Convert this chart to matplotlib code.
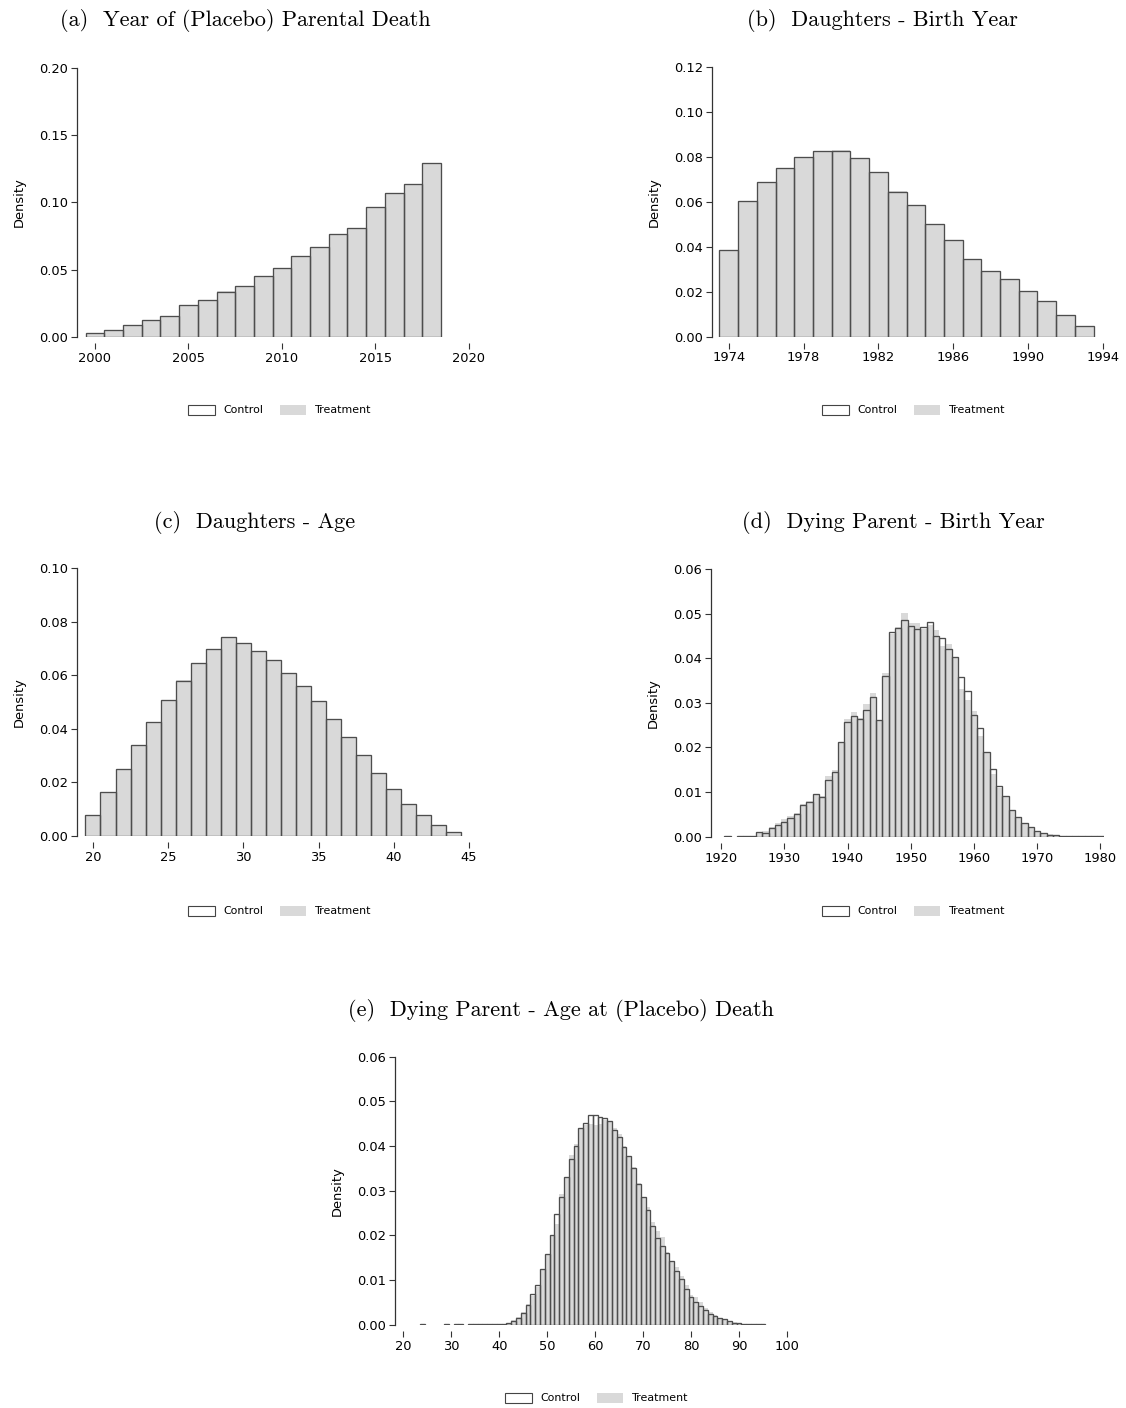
import numpy as np
import matplotlib
matplotlib.use("Agg")
import matplotlib.pyplot as plt
from matplotlib.patches import Patch

# (a) year of (placebo) parental death
years_a = list(range(2000, 2019))
ctrl_a = [0.0025, 0.0047, 0.0085, 0.0127, 0.0157, 0.0234, 0.0271, 0.0336, 0.0381, 0.0450,
          0.0515, 0.0597, 0.0669, 0.0761, 0.0811, 0.0963, 0.1067, 0.1137, 0.1294]
treat_a = [0.0025, 0.0047, 0.0085, 0.0127, 0.0157, 0.0236, 0.0274, 0.0338, 0.0381, 0.0450,
           0.0515, 0.0597, 0.0669, 0.0761, 0.0811, 0.0963, 0.1067, 0.1137, 0.1294]

# (b) daughters - birth year
years_b = list(range(1974, 1994))
ctrl_b = [0.0384, 0.0604, 0.0688, 0.0749, 0.0800, 0.0824, 0.0828, 0.0794, 0.0733, 0.0645,
          0.0585, 0.0500, 0.0428, 0.0345, 0.0293, 0.0254, 0.0203, 0.0158, 0.0094, 0.0045]
treat_b = [0.0384, 0.0604, 0.0688, 0.0749, 0.0800, 0.0826, 0.0830, 0.0794, 0.0733, 0.0647,
           0.0585, 0.0500, 0.0428, 0.0345, 0.0293, 0.0254, 0.0203, 0.0158, 0.0094, 0.0045]

# (c) daughters - age
ages_c = list(range(20, 45))
ctrl_c = [0.0078, 0.0164, 0.0251, 0.0339, 0.0425, 0.0506, 0.0579, 0.0645, 0.0698, 0.0743,
          0.0719, 0.0689, 0.0655, 0.0607, 0.0559, 0.0502, 0.0438, 0.0371, 0.0303, 0.0236,
          0.0174, 0.0120, 0.0077, 0.0041, 0.0014]
treat_c = [0.0078, 0.0164, 0.0251, 0.0339, 0.0425, 0.0506, 0.0582, 0.0645, 0.0698, 0.0743,
           0.0719, 0.0689, 0.0655, 0.0607, 0.0559, 0.0502, 0.0438, 0.0371, 0.0303, 0.0236,
           0.0174, 0.0120, 0.0077, 0.0041, 0.0014]

# (d) dying parent - birth year
years_d = [1921] + list(range(1923, 1981))
ctrl_d = [0.0001, 0.0002, 0.0001, 0.0002, 0.0010, 0.0008, 0.0020, 0.0026, 0.0034, 0.0042,
          0.0051, 0.0071, 0.0078, 0.0095, 0.0089, 0.0126, 0.0146, 0.0213, 0.0257, 0.0270,
          0.0263, 0.0285, 0.0312, 0.0261, 0.0361, 0.0459, 0.0467, 0.0486, 0.0473, 0.0465,
          0.0471, 0.0481, 0.0449, 0.0445, 0.0421, 0.0402, 0.0357, 0.0326, 0.0273, 0.0244,
          0.0190, 0.0151, 0.0113, 0.0091, 0.0060, 0.0045, 0.0030, 0.0021, 0.0012, 0.0008,
          0.0004, 0.0003, 0.0002, 0.0001, 0.0001, 0.0001, 0.0001, 0.0001, 0.0001]
treat_d = [0.0001, 0.0002, 0.0001, 0.0002, 0.0011, 0.0012, 0.0022, 0.0030, 0.0039, 0.0047,
           0.0054, 0.0074, 0.0079, 0.0093, 0.0091, 0.0135, 0.0150, 0.0210, 0.0263, 0.0280,
           0.0265, 0.0298, 0.0322, 0.0260, 0.0368, 0.0455, 0.0471, 0.0502, 0.0480, 0.0478,
           0.0465, 0.0475, 0.0464, 0.0428, 0.0431, 0.0400, 0.0330, 0.0307, 0.0281, 0.0225,
           0.0188, 0.0140, 0.0110, 0.0088, 0.0058, 0.0045, 0.0028, 0.0019, 0.0010, 0.0008,
           0.0005, 0.0003, 0.0002, 0.0001, 0.0001, 0.0001, 0.0001, 0.0001, 0.0001]

# (e) dying parent - age at (placebo) death
ages_e = [24, 29, 31, 32] + list(range(34, 96))
ctrl_e = [0.0001, 0.0001, 0.0001, 0.0001,
          0.0001, 0.0001, 0.0001, 0.0001, 0.0001, 0.0001, 0.0002, 0.0002,
          0.0004, 0.0009, 0.0016, 0.0027, 0.0045, 0.0068, 0.0090, 0.0125, 0.0158, 0.0201,
          0.0247, 0.0286, 0.0331, 0.0372, 0.0401, 0.0441, 0.0451, 0.0470, 0.0469, 0.0466,
          0.0463, 0.0456, 0.0436, 0.0421, 0.0397, 0.0377, 0.0350, 0.0316, 0.0287, 0.0256,
          0.0221, 0.0193, 0.0176, 0.0161, 0.0142, 0.0121, 0.0102, 0.0079, 0.0061, 0.0051,
          0.0041, 0.0034, 0.0025, 0.0020, 0.0016, 0.0012, 0.0008, 0.0004, 0.0003, 0.0002,
          0.0001, 0.0001, 0.0001, 0.0001]
treat_e = [0.0001, 0.0001, 0.0001, 0.0001,
           0.0001, 0.0001, 0.0001, 0.0001, 0.0001, 0.0001, 0.0002, 0.0002,
           0.0004, 0.0010, 0.0017, 0.0028, 0.0046, 0.0064, 0.0085, 0.0125, 0.0156, 0.0200,
           0.0225, 0.0292, 0.0330, 0.0381, 0.0405, 0.0441, 0.0447, 0.0449, 0.0447, 0.0450,
           0.0458, 0.0456, 0.0440, 0.0428, 0.0400, 0.0377, 0.0352, 0.0318, 0.0287, 0.0263,
           0.0230, 0.0210, 0.0196, 0.0163, 0.0142, 0.0129, 0.0110, 0.0088, 0.0067, 0.0061,
           0.0050, 0.0038, 0.0028, 0.0022, 0.0016, 0.0012, 0.0008, 0.0005, 0.0003, 0.0002,
           0.0001, 0.0001, 0.0001, 0.0001]

titles = ["(a)  Year of (Placebo) Parental Death",
          "(b)  Daughters - Birth Year",
          "(c)  Daughters - Age",
          "(d)  Dying Parent - Birth Year",
          "(e)  Dying Parent - Age at (Placebo) Death"]

W, H = 1126, 1408
fig = plt.figure(figsize=(W / 100, H / 100), dpi=100)

FILL = "#d9d9d9"
EDGE = "#4d4d4d"


def px_axes(left, right, top, bottom):
    # pixel box -> figure fraction
    return fig.add_axes([left / W, 1 - bottom / H, (right - left) / W, (bottom - top) / H])


def panel(box, x, ctrl, treat, xlim, xticks, ylim, yticks, title, title_xy, leg_xy):
    ax = px_axes(*box)
    ax.bar(x, treat, width=1.0, color=FILL, edgecolor="none", zorder=2)
    ax.bar(x, ctrl, width=1.0, facecolor="none", edgecolor=EDGE, linewidth=0.95, zorder=3)
    ax.set_xlim(*xlim)
    ax.set_ylim(*ylim)
    ax.set_xticks(xticks)
    ax.set_yticks(yticks)
    ax.yaxis.set_major_formatter(matplotlib.ticker.FormatStrFormatter("%.2f"))
    for s in ["top", "right"]:
        ax.spines[s].set_visible(False)
    ax.spines["bottom"].set_position(("outward", 4.5))
    ax.spines["bottom"].set_visible(False)
    ax.spines["left"].set_color("#333333")
    ax.spines["left"].set_linewidth(0.9)
    ax.tick_params(axis="both", labelsize=9.4, length=4.2, width=0.8, color="#333333", pad=2)
    ax.set_ylabel("Density", fontsize=9.4, labelpad=10)
    fig.text(title_xy[0] / W, 1 - title_xy[1] / H, title, family="cmr10", fontsize=16,
             ha="center", va="center")
    handles = [Patch(facecolor="white", edgecolor="#444444", linewidth=0.8, label="Control"),
               Patch(facecolor=FILL, edgecolor="none", label="Treatment")]
    fig.legend(handles=handles, loc="center", bbox_to_anchor=(leg_xy[0] / W, 1 - leg_xy[1] / H),
               ncol=2, frameon=False, fontsize=7.9, handlelength=2.4, handleheight=1.1,
               handletextpad=0.8, columnspacing=1.5)
    return ax


panel((77, 472.7, 68, 336.7), years_a, ctrl_a, treat_a, (1999.04, 2020.2),
      [2000, 2005, 2010, 2015, 2020], (0, 0.20), np.arange(0, 0.201, 0.05),
      titles[0], (245, 21), (280, 410))
panel((712, 1106.7, 67, 336.5), years_b, ctrl_b, treat_b, (1973.1, 1994.2),
      [1974, 1978, 1982, 1986, 1990, 1994], (0, 0.12), np.arange(0, 0.121, 0.02),
      titles[1], (882, 21), (914, 410))
panel((77, 472, 568, 836), ages_c, ctrl_c, treat_c, (18.94, 45.2),
      [20, 25, 30, 35, 40, 45], (0, 0.10), np.arange(0, 0.101, 0.02),
      titles[2], (255, 522), (280, 911))
panel((711, 1103.5, 569, 836.7), years_d, ctrl_d, treat_d, (1918.4, 1980.5),
      [1920, 1930, 1940, 1950, 1960, 1970, 1980], (0, 0.06), np.arange(0, 0.061, 0.01),
      titles[3], (893, 522), (914, 911))
panel((395, 789.4, 1056.7, 1324.7), ages_e, ctrl_e, treat_e, (18.27, 100.5),
      [20, 30, 40, 50, 60, 70, 80, 90, 100], (0, 0.06), np.arange(0, 0.061, 0.01),
      titles[4], (561, 1010), (597, 1398))

fig.savefig("out.png", dpi=100)
